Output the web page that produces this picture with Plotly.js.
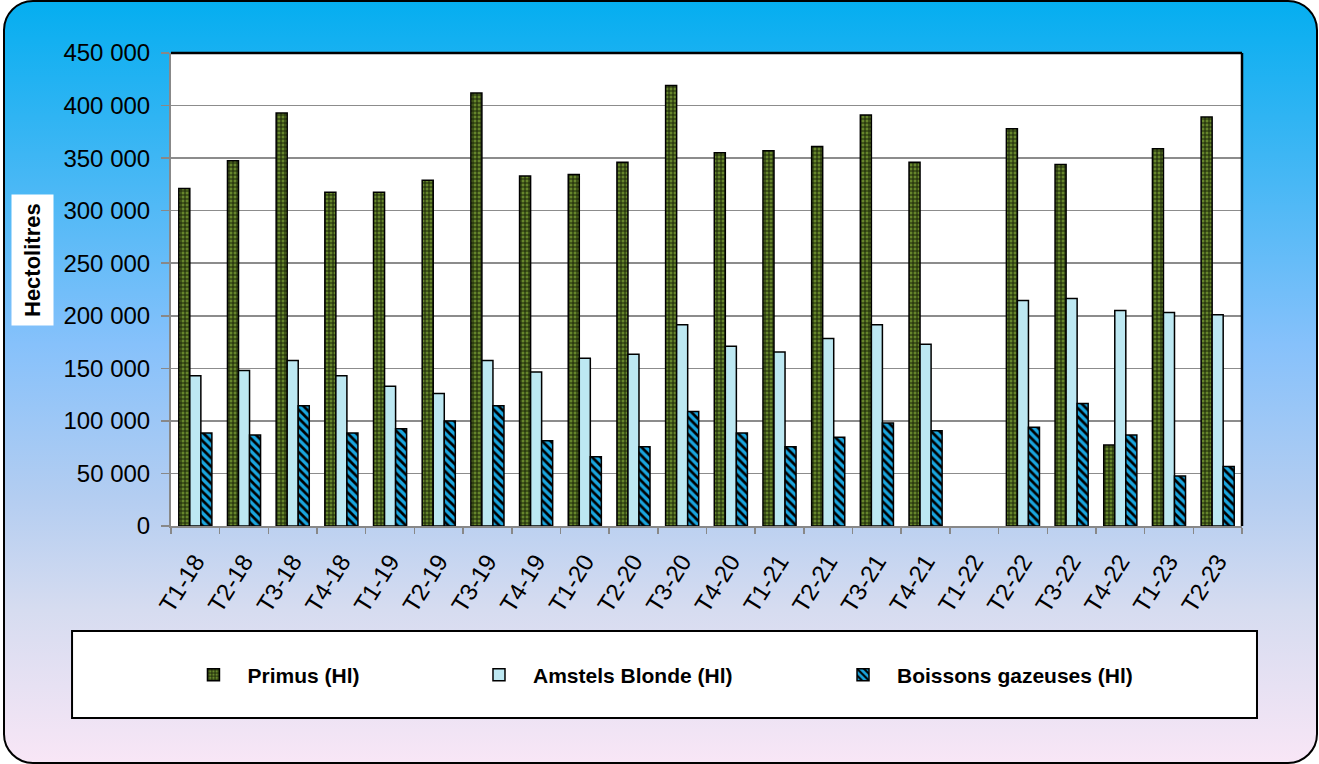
<!DOCTYPE html>
<html>
<head>
<meta charset="utf-8">
<script src="https://cdn.plot.ly/plotly-3.0.1.min.js"></script>
<style>
  html, body { margin: 0; padding: 0; background: #ffffff; width: 1319px; height: 764px; overflow: hidden; }
  #frame {
    position: absolute; left: 3px; top: 0px; width: 1311px; height: 760px;
    border: 2px solid #000; border-radius: 30px;
    background: linear-gradient(to bottom, #05aef0 0%, #3db6f4 20%, #86c1fb 45%, #b3cdf1 65%, #d6dcf0 80%, #f8e6f6 100%);
  }
  #chart { position: absolute; left: 0; top: 0; width: 1319px; height: 764px; }
</style>
</head>
<body>
<div id="frame"></div>
<div id="chart"></div>
<script>
const categories = ["T1-18","T2-18","T3-18","T4-18","T1-19","T2-19","T3-19","T4-19",
  "T1-20","T2-20","T3-20","T4-20","T1-21","T2-21","T3-21","T4-21",
  "T1-22","T2-22","T3-22","T4-22","T1-23","T2-23"];
const primus = [321000,347500,393000,317500,317500,329000,412000,333000,
  334500,346000,419000,355000,357000,361000,391000,346000,
  null,378000,344000,77000,359000,389000];
const amstels = [143000,148000,157500,143000,133000,126000,157500,146500,
  159500,163500,191500,171000,165500,178500,191500,173000,
  null,214500,216500,205000,203000,201000];
const boissons = [88500,86500,114500,88500,92500,100000,114500,81000,
  66000,75500,109000,88500,75500,84500,98000,90500,
  null,94000,116500,86500,47500,56500];
const seriesNames = ["Primus (Hl)", "Amstels Blonde (Hl)", "Boissons gazeuses (Hl)"];
const yTicks = [0,50000,100000,150000,200000,250000,300000,350000,400000,450000];

const FONT = "Liberation Sans, Arial, sans-serif";
const line = {color: "#000", width: 1.5};

const traces = [
  {type: "bar", x: categories, y: primus, name: seriesNames[0], legend: "legend",
   marker: {color: "#62812a", line: line,
            pattern: {shape: "+", fgcolor: "#1b2608", bgcolor: "#66862b", size: 4, solidity: 0.45}}},
  {type: "bar", x: categories, y: amstels, name: seriesNames[1], legend: "legend2",
   marker: {color: "#bde8f2", line: line}},
  {type: "bar", x: categories, y: boissons, name: seriesNames[2], legend: "legend3",
   marker: {color: "#1aa5de", line: line,
            pattern: {shape: "\\", fgcolor: "#000", bgcolor: "#1aa5de", size: 6, solidity: 0.45}}}
];

const legendFont = {family: FONT, size: 21, color: "#000", weight: "bold"};
const legBase = {orientation: "h", bgcolor: "rgba(0,0,0,0)", borderwidth: 0, font: legendFont,
  yanchor: "middle", xanchor: "left", y: -0.315, itemwidth: 58};

const layout = {
  width: 1319, height: 764,
  margin: {l: 171, r: 77, t: 53, b: 238},
  paper_bgcolor: "rgba(0,0,0,0)",
  plot_bgcolor: "#ffffff",
  separators: ", ",
  barmode: "group",
  bargap: 0.32,
  bargroupgap: 0,
  showlegend: true,
  font: {family: FONT, color: "#000"},
  xaxis: {
    type: "category",
    tickangle: -58,
    tickfont: {family: FONT, size: 24, color: "#000"},
    ticks: "outside", ticklen: 6, tickcolor: "#888", tickwidth: 1.5,
    tickson: "boundaries",
    ticklabelstandoff: 10,
    showline: true, linecolor: "#888", linewidth: 2,
    showgrid: false,
    fixedrange: true
  },
  yaxis: {
    range: [0, 450000],
    tickvals: yTicks,
    tickformat: ",d",
    tickfont: {family: FONT, size: 24, color: "#000"},
    ticks: "outside", ticklen: 8, tickcolor: "#888", tickwidth: 1.5,
    ticklabelstandoff: 6,
    showline: true, linecolor: "#888", linewidth: 2,
    showgrid: true, gridcolor: "#8c8c8c", gridwidth: 1.5,
    zeroline: false,
    fixedrange: true
  },
  legend: Object.assign({}, legBase, {x: 0.0079}),
  legend2: Object.assign({}, legBase, {x: 0.2745}),
  legend3: Object.assign({}, legBase, {x: 0.6144}),
  shapes: [
    {type: "rect", xref: "paper", yref: "paper", x0: -0.0924, x1: 1.014, y0: -0.406, y1: -0.222,
     line: {color: "#000", width: 2}, fillcolor: "#ffffff", layer: "below"},
    {type: "line", xref: "paper", yref: "paper", x0: 0, x1: 1, y0: 1, y1: 1,
     line: {color: "#000", width: 2.5}},
    {type: "line", xref: "paper", yref: "paper", x0: 1, x1: 1, y0: 0, y1: 1,
     line: {color: "#000", width: 2.5}}
  ],
  annotations: [
    {text: "Hectolitres", textangle: -90, xref: "paper", yref: "paper",
     x: (32 - 171) / 1071, y: (526 - 260) / 473, xanchor: "center", yanchor: "middle",
     showarrow: false, bgcolor: "#ffffff", borderpad: 8,
     font: {family: FONT, size: 22, color: "#000", weight: "bold"}}
  ]
};

Plotly.newPlot("chart", traces, layout, {displayModeBar: false, staticPlot: true});
</script>
</body>
</html>
